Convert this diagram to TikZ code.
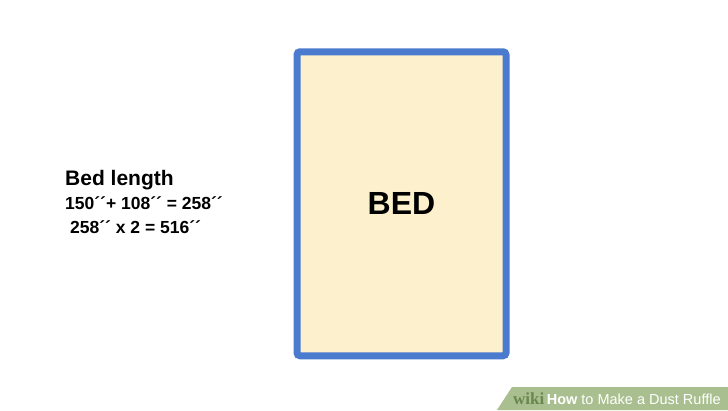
\documentclass[tikz,border=0pt]{standalone}
\usepackage{fontspec}
\setmainfont{Liberation Sans}
\newfontfamily\wikiserif{Liberation Serif}
\definecolor{bedblue}{HTML}{4A7BCF}
\definecolor{bedfill}{HTML}{FDF0CD}
\definecolor{wikigreen}{HTML}{A9BF8F}
\definecolor{wikidark}{HTML}{6A8750}
\tikzset{
  calc line/.style = {anchor=base west, inner sep=0pt, font=\fontsize{17.5}{20}\selectfont\bfseries},
  bedbox/.style = {draw=bedblue, fill=bedfill, line width=7pt, rounded corners=3pt,
    minimum width=209pt, minimum height=304pt, inner sep=0pt}
}
\begin{document}
\begin{tikzpicture}[x=1pt, y=-1pt]
		\useasboundingbox (0,0) rectangle (728,410);
		\fill [white] (0,0) rectangle (728,410);
		
		% the bed
		\node [bedbox] (bed) at (401.5, 203.75) {};
		\node [font=\fontsize{32}{36}\selectfont\bfseries] (bedlabel) at (bed.center) {BED};
		
		% length calculation
		\node [anchor=base west, inner sep=0pt, font=\fontsize{21}{24}\selectfont\bfseries] (title) at (65, 185) {Bed length};
		\node [calc line] (sum) at (65, 209) {150´´+ 108´´ = 258´´};
		\node [calc line] (double) at (70, 233) {258´´ x 2 = 516´´};
		
		% banner
		\fill [wikigreen] (512, 387) -- (728, 387) -- (728, 410) -- (497, 410) -- cycle;
		\node [anchor=base west, inner sep=0pt, font=\fontsize{14.5}{17}\selectfont] (banner) at (513, 404)
		  {\textcolor{wikidark}{\wikiserif\fontsize{17}{17}\selectfont\bfseries wiki}\,\textcolor{white}{\textbf{How} to Make a Dust Ruffle}};
		
		\end{tikzpicture}
\end{document}
